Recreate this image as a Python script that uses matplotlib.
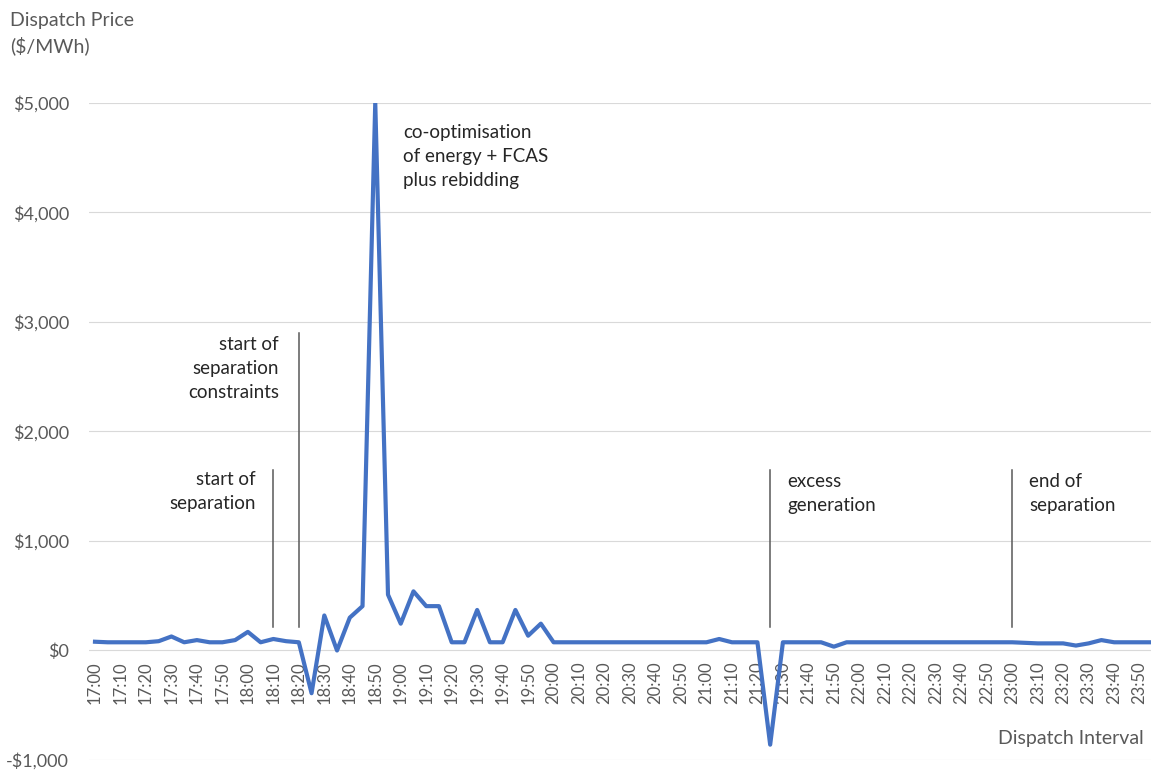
import matplotlib.pyplot as plt
from matplotlib.ticker import FuncFormatter

plt.rcParams['font.family'] = ['Lato', 'DejaVu Sans']

# Dispatch prices, one per 5-minute interval from 17:00 to 23:55
times = [f'{17 + i // 12}:{(i % 12) * 5:02d}' for i in range(84)]
prices = [
    80, 75, 75, 75, 75, 85, 128, 75, 95, 75, 75, 95,          # 17:00 - 17:55
    170, 75, 105, 85, 75, -390, 320, 0, 300, 405, 5000, 510,  # 18:00 - 18:55
    245, 540, 405, 405, 75, 75, 370, 75, 75, 370, 135, 245,   # 19:00 - 19:55
    75, 75, 75, 75, 75, 75, 75, 75, 75, 75, 75, 75,           # 20:00 - 20:55
    75, 105, 75, 75, 75, -860, 75, 75, 75, 75, 35, 75,        # 21:00 - 21:55
    75, 75, 75, 75, 75, 75, 75, 75, 75, 75, 75, 75,           # 22:00 - 22:55
    75, 70, 65, 65, 65, 45, 65, 95, 75, 75, 75, 75,           # 23:00 - 23:55
]

# Event markers: interval, bottom and top of the marker line, label
event_times = ['18:10', '18:20', '21:25', '23:00']
event_low = [210, 210, 210, 210]
event_high = [1650, 2900, 1650, 1650]
event_text = ['start of\nseparation', 'start of\nseparation\nconstraints',
              'excess\ngeneration', 'end of\nseparation']

fig = plt.figure(figsize=(11.51, 7.72), dpi=100)
ax = fig.add_axes([0.077, 0.01554, 0.9297, 0.8511])

x = list(range(len(times)))
ax.plot(x, prices, color='#4472C4', lw=3.0, solid_joinstyle='round', zorder=3)

ax.set_xlim(-0.5, len(times) - 0.5)
ax.set_ylim(-1000, 5000)
ax.set_yticks(range(-1000, 5001, 1000))
ax.yaxis.set_major_formatter(FuncFormatter(
    lambda v, p: f'${v:,.0f}' if v >= 0 else f'-${-v:,.0f}'))
ax.grid(axis='y', color='#D9D9D9', lw=0.8)
ax.set_axisbelow(True)

# category axis crosses at zero
ax.spines['bottom'].set_position(('data', 0))
for s in ax.spines.values():
    s.set_visible(False)
ax.set_xticks(x[::2])
ax.set_xticklabels(times[::2], rotation=90)
ax.tick_params(axis='x', length=0, pad=8, labelsize=12, labelcolor='#595959')
ax.tick_params(axis='y', length=0, pad=14, labelsize=13, labelcolor='#595959')

for t, lo, hi, txt in zip(event_times, event_low, event_high, event_text):
    i = times.index(t)
    ax.plot([i, i], [lo, hi], color='#595959', lw=1.1, zorder=2)
    if t == '18:10':
        ax.text(i - 1.36, hi - 15, txt, ha='right', va='top', fontsize=13.5,
                color='#262626', linespacing=1.5)
    elif t == '18:20':
        ax.text(i - 1.55, hi - 30, txt, ha='right', va='top', fontsize=13.5,
                color='#262626', linespacing=1.5)
    else:
        ax.text(i + 1.33, hi - 25, txt, ha='left', va='top', fontsize=13.5,
                color='#262626', linespacing=1.5)

i = times.index('18:50')
ax.text(i + 2.2, 4810, 'co-optimisation\nof energy + FCAS\nplus rebidding',
        ha='left', va='top', fontsize=13.5, color='#262626', linespacing=1.5)

fig.text(0.009, 0.985, 'Dispatch Price\n($/MWh)', ha='left', va='top',
         fontsize=14, color='#595959', linespacing=1.5)
fig.text(0.994, 0.043, 'Dispatch Interval', ha='right', va='center',
         fontsize=14, color='#595959')

plt.savefig('out.png', dpi=100)
